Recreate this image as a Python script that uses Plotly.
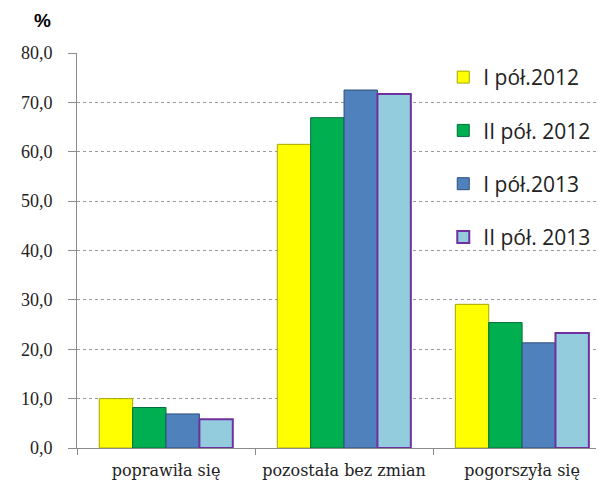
import plotly.graph_objects as go

# categories and series (%)
categories = ["poprawiła się", "pozostała bez zmian", "pogorszyła się"]
series_names = ["I pół.2012", "II pół. 2012", "I pół.2013", "II pół. 2013"]
h1_2012 = [10.0, 61.5, 29.1]
h2_2012 = [8.2, 66.9, 25.4]
h1_2013 = [6.9, 72.5, 21.3]
h2_2013 = [5.8, 71.7, 23.3]
y_ticks = [0, 10, 20, 30, 40, 50, 60, 70, 80]

values = [h1_2012, h2_2012, h1_2013, h2_2013]
fills = ["#FFFF00", "#00B050", "#4F81BD", "#93CDDD"]
edges = ["#A6A600", "#00703A", "#2F4F7A", "#7030A0"]
edge_w = [1, 1, 1, 2]

fig = go.Figure()
for i, name in enumerate(series_names):
    fig.add_trace(go.Bar(
        x=categories, y=values[i], name=name,
        legendgroup=name,
        marker=dict(color=fills[i], line=dict(color=edges[i], width=edge_w[i])),
    ))

# page body has an 8px margin, so the figure is 8px smaller each way
fig.update_layout(
    width=596, height=484,
    margin=dict(l=69, r=0, t=45, b=44, autoexpand=False),
    plot_bgcolor="white", paper_bgcolor="white",
    barmode="group", bargap=0.25, bargroupgap=0,
    separators=", ",
    showlegend=True,
    legend=dict(
        x=0.695, y=0.99, xanchor="left", yanchor="top",
        bgcolor="rgba(0,0,0,0)",
        font=dict(family="Open Sans", size=21, color="#222"),
        traceorder="grouped", tracegroupgap=23,
        itemwidth=30,
    ),
    annotations=[dict(
        text="<b>%</b>", xref="paper", yref="paper",
        x=(42 - 77) / 527, y=1 + (53 - 20) / 395,
        xanchor="center", yanchor="middle",
        showarrow=False, font=dict(family="Liberation Sans", size=19, color="black"),
    )],
)

fig.update_yaxes(
    range=[0, 80], tickvals=y_ticks, tickformat=".1f", automargin=False,
    showgrid=True, gridcolor="#9a9a9a", griddash="dot", gridwidth=1,
    showline=True, linecolor="#8c8c8c", linewidth=1,
    ticks="outside", ticklen=8, tickcolor="#8c8c8c",
    ticklabelstandoff=12,
    tickfont=dict(family="Liberation Serif", size=18, color="#222"),
    zeroline=False,
)
fig.update_xaxes(
    type="category", range=[-0.5, 2.46], automargin=False,
    showline=True, linecolor="#8c8c8c", linewidth=1,
    ticks="outside", ticklen=6, tickcolor="#8c8c8c", tickson="boundaries",
    ticklabelstandoff=8,
    tickfont=dict(family="DejaVu Serif", size=16, color="#222"),
)

fig.write_html("out.html")
